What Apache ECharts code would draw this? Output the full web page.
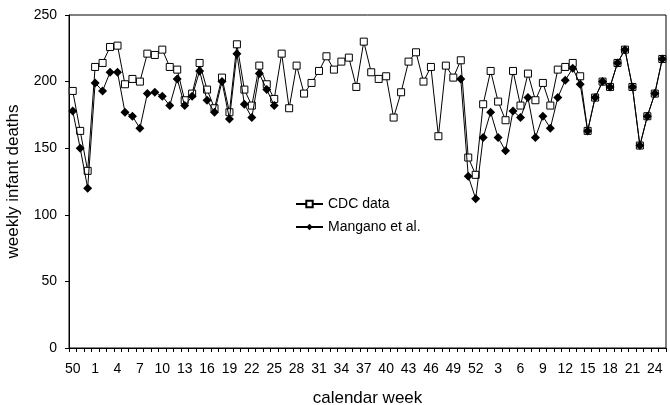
<!DOCTYPE html>
<html>
<head>
<meta charset="utf-8">
<script src="https://cdn.jsdelivr.net/npm/echarts@6/dist/echarts.min.js"></script>
<style>
html,body{margin:0;padding:0;background:#fff;}
#chart{width:670px;height:405px;}
</style>
</head>
<body>
<div id="chart"></div>
<script>
// calendar weeks: 50-52, 1-52, 1-25
const weeks = [];
for (let w = 50; w <= 52; w++) weeks.push(String(w));
for (let w = 1; w <= 52; w++) weeks.push(String(w));
for (let w = 1; w <= 25; w++) weeks.push(String(w));

const cdcData = [
  193, 163, 133, 211, 214, 226, 227, 198, 202, 200,
  221, 220, 224, 211, 209, 186, 191, 214, 194, 180,
  203, 177, 228, 194, 182, 212, 198, 187, 221, 180,
  212, 191, 199, 208, 219, 209, 215, 218, 196, 230,
  207, 202, 204, 173, 192, 215, 222, 200, 211, 159,
  212, 203, 216, 143, 130, 183, 208, 185, 171, 208,
  182, 206, 186, 199, 182, 209, 211, 214, 204, 163,
  188, 200, 196, 214, 224, 196, 152, 174, 191, 217
];

const manganoData = [
  178, 150, 120, 199, 193, 207, 207, 177, 174, 165,
  191, 192, 189, 182, 202, 182, 189, 208, 186, 177,
  200, 172, 221, 183, 173, 206, 194, 182, null, null,
  null, null, null, null, null, null, null, null, null, null,
  null, null, null, null, null, null, null, null, null, null,
  null, null, 202, 129, 112, 158, 177, 158, 148, 178,
  173, 188, 158, 174, 165, 188, 201, 210, 198, 163,
  188, 200, 196, 214, 224, 196, 152, 174, 191, 217
];

const yTicks = [0, 50, 100, 150, 200, 250];

const chart = echarts.init(document.getElementById('chart'), null, {renderer: 'canvas'});
const font = 'Liberation Sans, Arial, sans-serif';
chart.setOption({
  animation: false,
  backgroundColor: '#fff',
  textStyle: {fontFamily: font, color: '#000'},
  grid: {left: 69, right: 4, top: 15, bottom: 57, containLabel: false, outerBoundsMode: 'none',
         show: true, borderColor: '#000', borderWidth: 1},
  legend: {
    orient: 'vertical', left: 290, top: 192, itemWidth: 27, itemHeight: 8, itemGap: 9,
    textStyle: {fontFamily: font, fontSize: 14, color: '#000'},
    data: ['CDC data', 'Mangano et al.']
  },
  xAxis: {
    type: 'category', data: weeks, boundaryGap: true,
    name: 'calendar week', nameLocation: 'middle', nameGap: 42,
    nameTextStyle: {fontFamily: font, fontSize: 17, color: '#000'},
    axisLine: {lineStyle: {color: '#000', width: 1}},
    axisTick: {show: true, interval: 0, length: 4, lineStyle: {color: '#000'}},
    axisLabel: {interval: 2, margin: 14, fontFamily: font, fontSize: 14, color: '#000'},
    splitLine: {show: false}
  },
  yAxis: {
    type: 'value', min: yTicks[0], max: yTicks[yTicks.length - 1], interval: 50,
    name: 'weekly infant deaths', nameLocation: 'middle', nameGap: 47,
    nameTextStyle: {fontFamily: font, fontSize: 17, color: '#000'},
    axisLine: {show: true, lineStyle: {color: '#000', width: 1}},
    axisTick: {show: true, length: 4, lineStyle: {color: '#000'}},
    axisLabel: {margin: 12, fontFamily: font, fontSize: 14, color: '#000'},
    splitLine: {show: false}
  },
  series: [
    {
      name: 'CDC data', type: 'line', data: cdcData,
      symbol: 'rect', symbolSize: 7, showAllSymbol: true,
      lineStyle: {color: '#000', width: 1},
      itemStyle: {color: '#fff', borderColor: '#000', borderWidth: 1},
      z: 2
    },
    {
      name: 'Mangano et al.', type: 'line', data: manganoData, connectNulls: false,
      symbol: 'diamond', symbolSize: 9, showAllSymbol: true,
      lineStyle: {color: '#000', width: 1},
      itemStyle: {color: '#000', borderColor: '#000', borderWidth: 0},
      z: 3
    }
  ]
});
</script>
</body>
</html>
